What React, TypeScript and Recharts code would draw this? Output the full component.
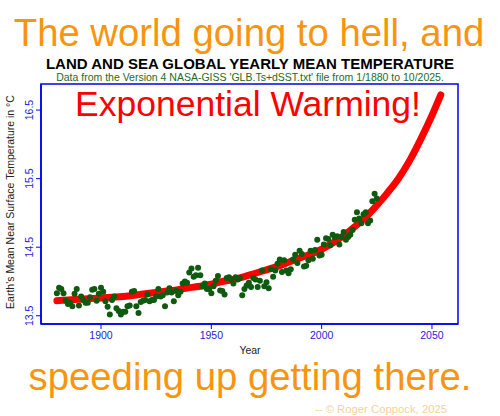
import React from "react";
import { ComposedChart, Line, Scatter, XAxis, YAxis, ReferenceArea } from "recharts";

// yearly means, 1880 .. 2025
const pointYears = [
  1880, 1881, 1882, 1883, 1884, 1885, 1886, 1887, 1888, 1889,
  1890, 1891, 1892, 1893, 1894, 1895, 1896, 1897, 1898, 1899,
  1900, 1901, 1902, 1903, 1904, 1905, 1906, 1907, 1908, 1909,
  1910, 1911, 1912, 1913, 1914, 1915, 1916, 1917, 1918, 1919,
  1920, 1921, 1922, 1923, 1924, 1925, 1926, 1927, 1928, 1929,
  1930, 1931, 1932, 1933, 1934, 1935, 1936, 1937, 1938, 1939,
  1940, 1941, 1942, 1943, 1944, 1945, 1946, 1947, 1948, 1949,
  1950, 1951, 1952, 1953, 1954, 1955, 1956, 1957, 1958, 1959,
  1960, 1961, 1962, 1963, 1964, 1965, 1966, 1967, 1968, 1969,
  1970, 1971, 1972, 1973, 1974, 1975, 1976, 1977, 1978, 1979,
  1980, 1981, 1982, 1983, 1984, 1985, 1986, 1987, 1988, 1989,
  1990, 1991, 1992, 1993, 1994, 1995, 1996, 1997, 1998, 1999,
  2000, 2001, 2002, 2003, 2004, 2005, 2006, 2007, 2008, 2009,
  2010, 2011, 2012, 2013, 2014, 2015, 2016, 2017, 2018, 2019,
  2020, 2021, 2022, 2023, 2024, 2025,
];
const pointTemps = [
  13.83, 13.91, 13.89, 13.83, 13.72, 13.67, 13.69, 13.64, 13.82, 13.89,
  13.65, 13.78, 13.73, 13.69, 13.69, 13.77, 13.88, 13.89, 13.72, 13.82,
  13.91, 13.85, 13.71, 13.63, 13.52, 13.73, 13.78, 13.61, 13.57, 13.52,
  13.56, 13.56, 13.64, 13.65, 13.85, 13.86, 13.64, 13.54, 13.70, 13.72,
  13.73, 13.81, 13.71, 13.73, 13.73, 13.78, 13.89, 13.78, 13.80, 13.64,
  13.84, 13.90, 13.84, 13.71, 13.87, 13.80, 13.85, 13.97, 14.00, 13.98,
  14.13, 14.19, 14.07, 14.09, 14.20, 14.09, 13.93, 13.97, 13.89, 13.89,
  13.83, 13.93, 14.01, 14.08, 13.87, 13.86, 13.81, 14.05, 14.06, 14.03,
  13.97, 14.06, 14.03, 14.05, 13.80, 13.89, 13.94, 13.98, 13.92, 14.05,
  14.03, 13.92, 14.01, 14.16, 13.93, 13.99, 13.90, 14.18, 14.07, 14.16,
  14.26, 14.32, 14.14, 14.31, 14.16, 14.12, 14.18, 14.32, 14.39, 14.27,
  14.45, 14.40, 14.22, 14.23, 14.31, 14.45, 14.33, 14.46, 14.61, 14.38,
  14.39, 14.54, 14.63, 14.62, 14.53, 14.68, 14.64, 14.66, 14.54, 14.65,
  14.72, 14.61, 14.65, 14.68, 14.75, 14.90, 15.01, 14.92, 14.85, 14.98,
  15.01, 14.85, 14.89, 15.17, 15.28, 15.21,
];

// exponential fit
const fitYears = [
  1880, 1885, 1890, 1895, 1900, 1905, 1910, 1915, 1920, 1925, 1930, 1935,
  1940, 1945, 1950, 1955, 1960, 1965, 1970, 1975, 1980, 1985, 1990, 1995,
  2000, 2005, 2010, 2015, 2020, 2025, 2030, 2035, 2040, 2045, 2050, 2054,
];
const fitTemps = [
  13.72, 13.73, 13.74, 13.75, 13.76, 13.77, 13.78, 13.80, 13.82, 13.84, 13.86, 13.88,
  13.91, 13.93, 13.96, 14.0, 14.03, 14.07, 14.12, 14.17, 14.22, 14.28, 14.34, 14.40,
  14.47, 14.56, 14.67, 14.80, 14.94, 15.11, 15.30, 15.51, 15.77, 16.08, 16.42, 16.72,
];

const xTicks = [1900, 1950, 2000, 2050];
const yTicks = [13.5, 14.5, 15.5, 16.5];

const points = pointYears.map((year, i) => ({ year, temp: pointTemps[i] }));
const fit = fitYears.map((year, i) => ({ year, temp: fitTemps[i] }));

const FONT = "'Liberation Sans', Arial, sans-serif";
const BLUE = "#0000F0";
const TICK_BLUE = "#2424D8";
const ORANGE = "#F7950F";
const X_DOMAIN = [1872.8, 2061.8];
const Y_DOMAIN = [13.38, 16.88];

const YTick = (props: any) => {
  const { x, y, payload } = props;
  return (
    <text
      x={x}
      y={y}
      transform={`rotate(-90, ${x}, ${y})`}
      textAnchor="middle"
      fill={TICK_BLUE}
      fontSize={10.5}
      fontFamily={FONT}
    >
      {payload.value.toFixed(1)}
    </text>
  );
};

const Dot = (props: any) => <circle cx={props.cx} cy={props.cy} r={3} fill="#0E5A0E" />;

export default function App() {
  return (
    <div style={{ position: "absolute", left: 0, top: 0, width: 500, height: 416, background: "#fff" }}>
      <ComposedChart width={500} height={416} margin={{ top: 84, right: 42, bottom: 62, left: 0 }}>
        <XAxis
          dataKey="year"
          type="number"
          domain={X_DOMAIN}
          ticks={xTicks}
          height={30}
          tickSize={5}
          tickMargin={3}
          axisLine={{ stroke: BLUE, strokeWidth: 1.5 }}
          tickLine={{ stroke: BLUE }}
          tick={{ fill: TICK_BLUE, fontSize: 10.5, fontFamily: FONT }}
          allowDataOverflow
        />
        <YAxis
          dataKey="temp"
          type="number"
          domain={Y_DOMAIN}
          ticks={yTicks}
          width={41}
          tickSize={5}
          tickMargin={3}
          axisLine={{ stroke: BLUE, strokeWidth: 1.5 }}
          tickLine={{ stroke: BLUE }}
          tick={<YTick />}
          allowDataOverflow
        />
        <ReferenceArea
          x1={X_DOMAIN[0]}
          x2={X_DOMAIN[1]}
          y1={Y_DOMAIN[0]}
          y2={Y_DOMAIN[1]}
          fill="none"
          stroke={BLUE}
          strokeWidth={1.5}
          ifOverflow="visible"
        />
        <Line
          data={fit}
          dataKey="temp"
          type="monotone"
          stroke="#FF0000"
          strokeWidth={7}
          strokeLinecap="round"
          dot={false}
          isAnimationActive={false}
        />
        <Scatter data={points} dataKey="temp" shape={<Dot />} isAnimationActive={false} />
      </ComposedChart>
      <svg
        width={500}
        height={416}
        style={{ position: "absolute", left: 0, top: 0, pointerEvents: "none" }}
        fontFamily={FONT}
      >
        <text x={249} y={46} textAnchor="middle" fontSize={38.3} fill={ORANGE}>
          The world going to hell, and
        </text>
        <text x={250} y={69} textAnchor="middle" fontSize={15} fontWeight="bold" fill="#000">
          LAND AND SEA GLOBAL YEARLY MEAN TEMPERATURE
        </text>
        <text x={250} y={81} textAnchor="middle" fontSize={10.5} fill="#236B23">
          Data from the Version 4 NASA-GISS 'GLB.Ts+dSST.txt' file from 1/1880 to 10/2025.
        </text>
        <text x={248} y={115.5} textAnchor="middle" fontSize={35.5} fill="#FF0000">
          Exponential Warming!
        </text>
        <text x={250} y={354} textAnchor="middle" fontSize={10.5} fill="#222">
          Year
        </text>
        <text
          x={14}
          y={202}
          transform="rotate(-90, 14, 202)"
          textAnchor="middle"
          fontSize={10.5}
          fill="#222"
        >
          Earth's Mean Near Surface Temperature in °C
        </text>
        <text x={250} y={390} textAnchor="middle" fontSize={38.3} fill={ORANGE}>
          speeding up getting there.
        </text>
        <text x={381} y={413} textAnchor="middle" fontSize={11.3} fill="#F3D39E">
          -- © Roger Coppock, 2025
        </text>
      </svg>
    </div>
  );
}
